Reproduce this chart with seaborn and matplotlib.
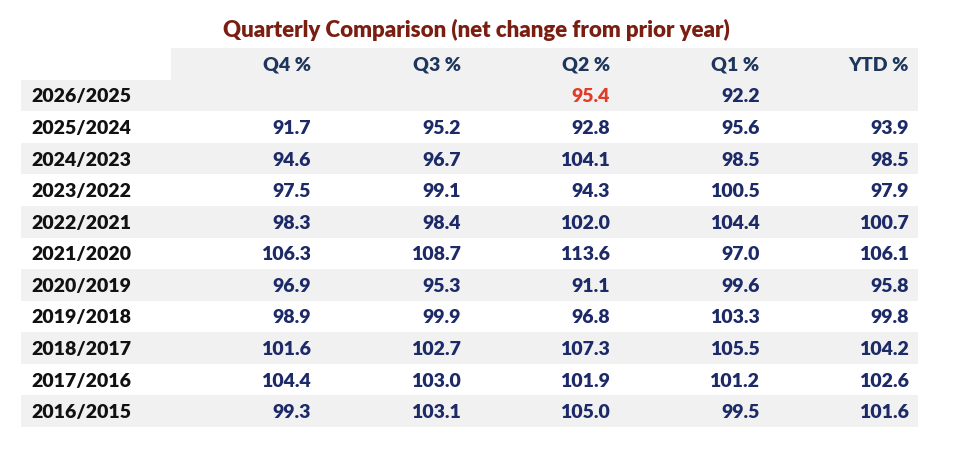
import numpy as np
import pandas as pd
import matplotlib
matplotlib.use("Agg")
import matplotlib.pyplot as plt
from matplotlib.colors import ListedColormap
import seaborn as sns

# ---- data ----
title = "Quarterly Comparison (net change from prior year)"
columns = ["Q4 %", "Q3 %", "Q2 %", "Q1 %", "YTD %"]
periods = ["2026/2025", "2025/2024", "2024/2023", "2023/2022", "2022/2021",
           "2021/2020", "2020/2019", "2019/2018", "2018/2017", "2017/2016",
           "2016/2015"]
q4 = [None, 91.7, 94.6, 97.5, 98.3, 106.3, 96.9, 98.9, 101.6, 104.4, 99.3]
q3 = [None, 95.2, 96.7, 99.1, 98.4, 108.7, 95.3, 99.9, 102.7, 103.0, 103.1]
q2 = [95.4, 92.8, 104.1, 94.3, 102.0, 113.6, 91.1, 96.8, 107.3, 101.9, 105.0]
q1 = [92.2, 95.6, 98.5, 100.5, 104.4, 97.0, 99.6, 103.3, 105.5, 101.2, 99.5]
ytd = [None, 93.9, 98.5, 97.9, 100.7, 106.1, 95.8, 99.8, 104.2, 102.6, 101.6]
highlight = ("2026/2025", "Q2 %")   # value shown in red

df = pd.DataFrame({"Q4 %": q4, "Q3 %": q3, "Q2 %": q2, "Q1 %": q1, "YTD %": ytd},
                  index=periods)

# ---- figure ----
sns.set_theme(style="white")
plt.rcParams["font.family"] = ["Lato", "DejaVu Sans"]

W, H = 963, 452
fig = plt.figure(figsize=(W / 100, H / 100), dpi=100)
ax = fig.add_axes([21 / W, 1 - 428 / H, (918 - 21) / W, (428 - 49) / H])

n_rows = len(periods) + 1
n_cols = len(columns) + 1
shade = np.zeros((n_rows, n_cols))
shade[0, 1:] = 1                      # header band
for i in range(len(periods)):
    if i % 2 == 0:
        shade[i + 1, :] = 1

sns.heatmap(shade, ax=ax, cmap=ListedColormap(["#ffffff", "#f1f1f1"]),
            cbar=False, xticklabels=False, yticklabels=False,
            linewidths=0, vmin=0, vmax=1)
ax.set_xlim(0, n_cols)
ax.set_ylim(n_rows, 0)
for s in ax.spines.values():
    s.set_visible(False)

fs = 14
wt = "heavy"
base = 0.69
pad = 0.06
header_color = "#1f365c"
value_color = "#1c2a68"

for j, c in enumerate(columns):
    ax.text(j + 2 - pad, 0 + base, c, ha="right", va="baseline",
            fontsize=fs, fontweight=wt, color=header_color)

for i, p in enumerate(periods):
    r = i + 1
    ax.text(0.067, r + base, p, ha="left", va="baseline",
            fontsize=fs, fontweight=wt, color="#111111")
    for j, c in enumerate(columns):
        v = df.loc[p, c]
        if v is None or pd.isna(v):
            continue
        col = "#e03c28" if (p, c) == highlight else value_color
        ax.text(j + 2 - pad, r + base, f"{v:.1f}", ha="right", va="baseline",
                fontsize=fs, fontweight=wt, color=col)

fig.text(476 / W, 1 - 37 / H, title, ha="center", va="baseline",
         fontsize=16, fontweight=wt, color="#7a1e12")

fig.savefig("out.png", dpi=100, facecolor="white")
